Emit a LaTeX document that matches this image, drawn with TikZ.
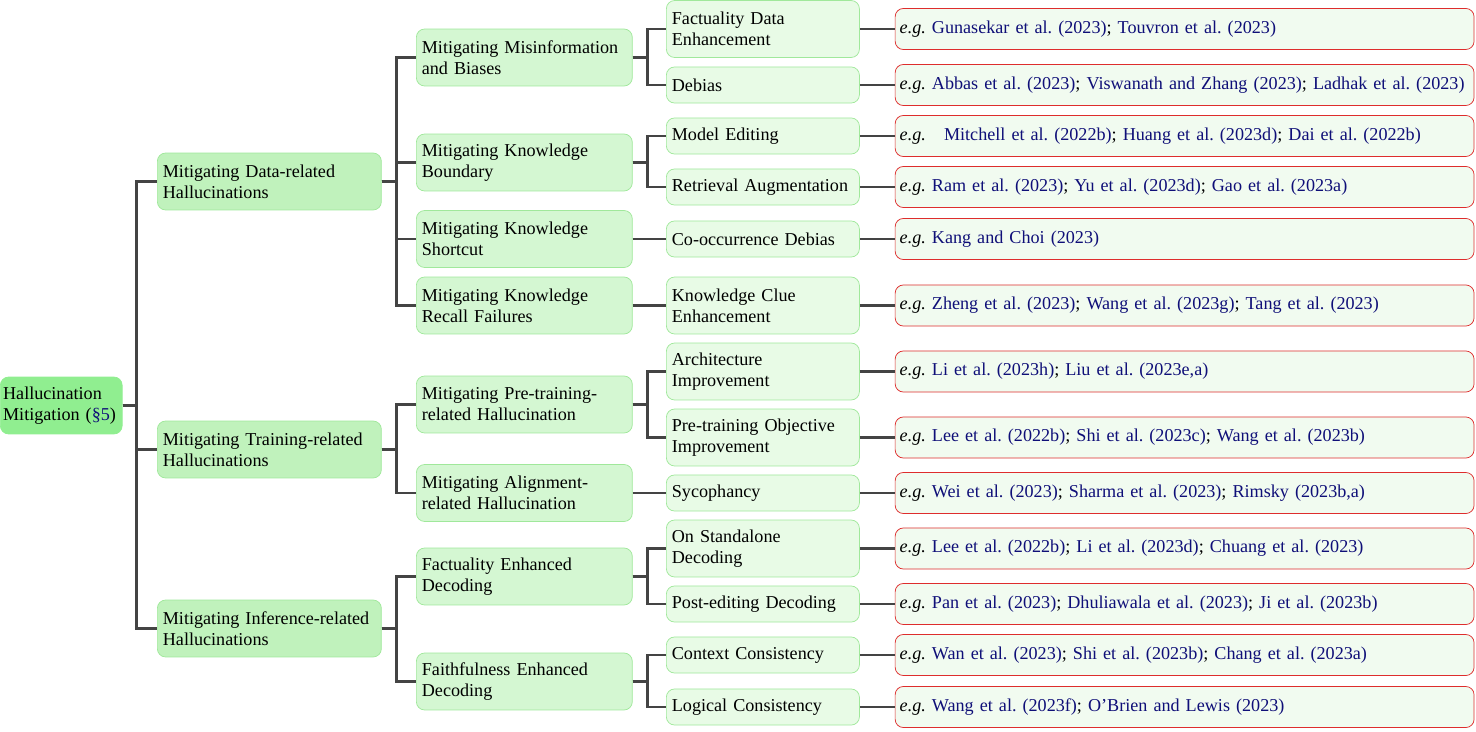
\documentclass[tikz,border=0pt]{standalone}
\usepackage{fontspec}
\setmainfont{Liberation Serif}
\usetikzlibrary{positioning}
\frenchspacing
\definecolor{RootGreen}{RGB}{144,238,144}
\definecolor{LevelOne}{RGB}{192,242,188}
\definecolor{LevelTwo}{RGB}{212,247,210}
\definecolor{LevelThree}{RGB}{232,251,230}
\definecolor{LeafFill}{RGB}{241,251,240}
\definecolor{BoxBorder}{RGB}{160,232,155}
\definecolor{LeafBorder}{RGB}{222,45,45}
\definecolor{CiteBlue}{RGB}{15,15,120}
\definecolor{BranchGray}{RGB}{68,68,68}
\newcommand{\eg}{\textit{e.g.}}
\newcommand{\refcite}[1]{\textcolor{CiteBlue}{#1}}
\tikzset{
  basebox/.style={rounded corners=4.5pt, align=left, inner xsep=3pt, inner ysep=2pt,
                  font=\fontsize{9.9}{11.5}\selectfont, anchor=west},
  rootbox/.style={basebox, fill=RootGreen, draw=RootGreen, inner xsep=1.5pt, text width=63.5pt, minimum height=31.1pt},
  onebox/.style={basebox, fill=LevelOne, draw=BoxBorder, text width=116.3pt, minimum height=31.1pt},
  twobox/.style={basebox, fill=LevelTwo, draw=BoxBorder, text width=111.9pt, minimum height=31.1pt},
  threebox/.style={basebox, fill=LevelThree, draw=BoxBorder, text width=99.4pt, minimum height=19.7pt},
  tallthree/.style={threebox, minimum height=31.1pt},
  leafbox/.style={basebox, fill=LeafFill, draw=LeafBorder, inner xsep=2.5pt, text width=311.1pt, minimum height=22.4pt},
  branch/.style={draw=BranchGray, line width=1.4pt},
}
\begin{document}
\begin{tikzpicture}[x=0.546pt, y=-0.546pt]
  \useasboundingbox (0,0) rectangle (1476,732);

  % Wurzel und erste Ebene
  \node[rootbox] (root) at (0,405.5) {Hallucination\\Mitigation (\refcite{§5})};
  \node[onebox] (data) at (157,181.5) {Mitigating Data-related\\Hallucinations};
  \node[onebox] (train) at (157,449.5) {Mitigating Training-related\\Hallucinations};
  \node[onebox] (infer) at (157,628.5) {Mitigating Inference-related\\Hallucinations};

  % zweite Ebene
  \node[twobox] (misinfo) at (416,57.5) {Mitigating Misinformation\\and Biases};
  \node[twobox] (bound) at (416,162.5) {Mitigating Knowledge\\Boundary};
  \node[twobox] (short) at (416,239) {Mitigating Knowledge\\Shortcut};
  \node[twobox] (recall) at (416,305.5) {Mitigating Knowledge\\Recall Failures};
  \node[twobox] (pretrain) at (416,404.5) {Mitigating Pre-training-\\related Hallucination};
  \node[twobox] (align) at (416,493) {Mitigating Alignment-\\related Hallucination};
  \node[twobox] (facdec) at (416,576.5) {Factuality Enhanced\\Decoding};
  \node[twobox] (faith) at (416,681.5) {Faithfulness Enhanced\\Decoding};

  % dritte Ebene
  \node[tallthree] (fde) at (666,29) {Factuality Data\\Enhancement};
  \node[threebox] (debias) at (666,85) {Debias};
  \node[threebox] (medit) at (666,136) {Model Editing};
  \node[threebox] (retr) at (666,187) {Retrieval Augmentation};
  \node[threebox] (cood) at (666,239) {Co-occurrence Debias};
  \node[tallthree] (kce) at (666,305.5) {Knowledge Clue\\Enhancement};
  \node[tallthree] (arch) at (666,371.5) {Architecture\\Improvement};
  \node[tallthree] (ptoi) at (666,437.5) {Pre-training Objective\\Improvement};
  \node[threebox] (syco) at (666,493) {Sycophancy};
  \node[tallthree] (osd) at (666,548.5) {On Standalone\\Decoding};
  \node[threebox] (ped) at (666,604) {Post-editing Decoding};
  \node[threebox] (ctx) at (666,655) {Context Consistency};
  \node[threebox] (logic) at (666,707) {Logical Consistency};

  % Verzweigungen
  \foreach \kid in {data,train,infer}
    \draw[branch] (root.east) -- ++(14,0) |- (\kid.west);
  \foreach \up/\kid in {data/misinfo,data/bound,data/short,data/recall,
                        train/pretrain,train/align,infer/facdec,infer/faith}
    \draw[branch] (\up.east) -- ++(15,0) |- (\kid.west);
  \foreach \up/\kid in {misinfo/fde,misinfo/debias,bound/medit,bound/retr,short/cood,
                        recall/kce,pretrain/arch,pretrain/ptoi,align/syco,facdec/osd,
                        facdec/ped,faith/ctx,faith/logic}
    \draw[branch] (\up.east) -- ++(15,0) |- (\kid.west);

  % Blätter mit Literatur
  \foreach \src/\txt [count=\i] in {
    fde/{\eg{} \refcite{Gunasekar et al. (2023)}; \refcite{Touvron et al. (2023)}},
    debias/{\eg{} \refcite{Abbas et al. (2023)}; \refcite{Viswanath and Zhang (2023)}; \refcite{Ladhak et al. (2023)}},
    medit/{\eg\ \ \ \refcite{Mitchell et al. (2022b)}; \refcite{Huang et al. (2023d)}; \refcite{Dai et al. (2022b)}},
    retr/{\eg{} \refcite{Ram et al. (2023)}; \refcite{Yu et al. (2023d)}; \refcite{Gao et al. (2023a)}},
    cood/{\eg{} \refcite{Kang and Choi (2023)}},
    kce/{\eg{} \refcite{Zheng et al. (2023)}; \refcite{Wang et al. (2023g)}; \refcite{Tang et al. (2023)}},
    arch/{\eg{} \refcite{Li et al. (2023h)}; \refcite{Liu et al. (2023e,a)}},
    ptoi/{\eg{} \refcite{Lee et al. (2022b)}; \refcite{Shi et al. (2023c)}; \refcite{Wang et al. (2023b)}},
    syco/{\eg{} \refcite{Wei et al. (2023)}; \refcite{Sharma et al. (2023)}; \refcite{Rimsky (2023b,a)}},
    osd/{\eg{} \refcite{Lee et al. (2022b)}; \refcite{Li et al. (2023d)}; \refcite{Chuang et al. (2023)}},
    ped/{\eg{} \refcite{Pan et al. (2023)}; \refcite{Dhuliawala et al. (2023)}; \refcite{Ji et al. (2023b)}},
    ctx/{\eg{} \refcite{Wan et al. (2023)}; \refcite{Shi et al. (2023b)}; \refcite{Chang et al. (2023a)}},
    logic/{\eg{} \refcite{Wang et al. (2023f)}; \refcite{O’Brien and Lewis (2023)}}}{
    \node[leafbox, right=19.1pt of \src] (leaf\i) {\txt};
    \draw[branch] (\src.east) -- (leaf\i.west);
  }
\end{tikzpicture}
\end{document}
